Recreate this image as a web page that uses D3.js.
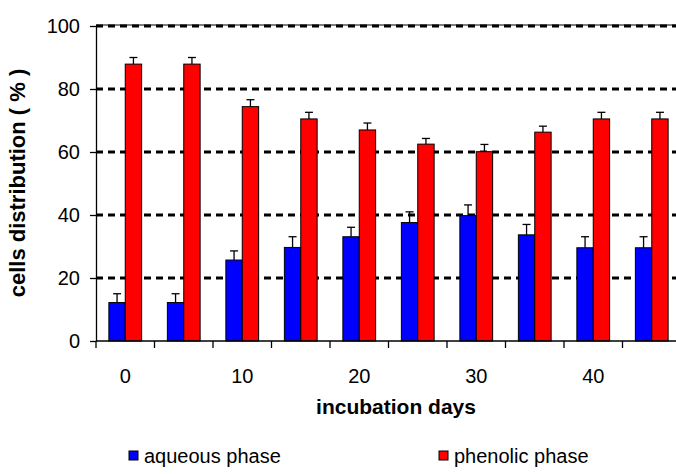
<!DOCTYPE html>
<html>
<head>
<meta charset="utf-8">
<script src="https://cdn.jsdelivr.net/npm/d3@7"></script>
<style>
  html, body { margin: 0; padding: 0; background: #fff; }
  svg { display: block; }
</style>
</head>
<body>
<div id="chart"></div>
<script>
const days = ["0", "5", "10", "15", "20", "25", "30", "35", "40", "45"];
const xTickLabels = ["0", "10", "20", "30", "40"];
const aqueous = [12.2, 12.2, 25.7, 29.7, 33.1, 37.6, 39.8, 33.7, 29.6, 29.6];
const aqueousErr = [2.8, 2.8, 2.9, 3.4, 3.0, 3.4, 3.4, 3.3, 3.5, 3.5];
const phenolic = [87.9, 87.9, 74.4, 70.5, 67.0, 62.5, 60.1, 66.3, 70.5, 70.5];
const phenolicErr = [2.1, 2.1, 2.2, 2.1, 2.2, 1.8, 2.3, 1.9, 2.1, 2.1];
const yTicks = [0, 20, 40, 60, 80, 100];
const seriesNames = ["aqueous phase", "phenolic phase"];
const seriesColors = ["#0000ff", "#ff0000"];

const W = 676, H = 474;
const pLeft = 96, pRight = 681, pTop = 26, pBottom = 341;
const FONT = "Liberation Sans, Arial, sans-serif";

const svg = d3.select("#chart").append("svg").attr("width", W).attr("height", H);

const x = d3.scaleBand().domain(days).range([pLeft, pRight]).paddingInner(0.44).paddingOuter(0.22);
const xs = d3.scaleBand().domain([0, 1]).range([0, x.bandwidth()]);
const y = d3.scaleLinear().domain([0, 100]).range([pBottom, pTop]);

// gridlines
svg.append("g").selectAll("line").data(yTicks.filter(d => d > 0)).join("line")
  .attr("x1", pLeft).attr("x2", pRight)
  .attr("y1", d => y(d)).attr("y2", d => y(d))
  .attr("stroke", "#000").attr("stroke-width", 3).attr("stroke-dasharray", "7,5");
// top border
svg.append("line").attr("x1", pLeft).attr("x2", pRight).attr("y1", y(100) - 1).attr("y2", y(100) - 1)
  .attr("stroke", "#000").attr("stroke-width", 1.2);

// bars
const series = [
  { vals: aqueous, errs: aqueousErr },
  { vals: phenolic, errs: phenolicErr }
];
series.forEach((s, si) => {
  const g = svg.append("g");
  g.selectAll("rect").data(days).join("rect")
    .attr("x", d => x(d) + xs(si))
    .attr("y", (d, i) => y(s.vals[i]))
    .attr("width", xs.bandwidth())
    .attr("height", (d, i) => y(0) - y(s.vals[i]))
    .attr("fill", seriesColors[si]).attr("stroke", "#000").attr("stroke-width", 1);
  g.selectAll("line.v").data(days).join("line").attr("class", "v")
    .attr("x1", d => x(d) + xs(si) + xs.bandwidth() / 2)
    .attr("x2", d => x(d) + xs(si) + xs.bandwidth() / 2)
    .attr("y1", (d, i) => y(s.vals[i]))
    .attr("y2", (d, i) => y(s.vals[i] + s.errs[i]))
    .attr("stroke", "#000").attr("stroke-width", 1.3);
  g.selectAll("line.c").data(days).join("line").attr("class", "c")
    .attr("x1", d => x(d) + xs(si) + xs.bandwidth() / 2 - 4)
    .attr("x2", d => x(d) + xs(si) + xs.bandwidth() / 2 + 4)
    .attr("y1", (d, i) => y(s.vals[i] + s.errs[i]))
    .attr("y2", (d, i) => y(s.vals[i] + s.errs[i]))
    .attr("stroke", "#000").attr("stroke-width", 1.3);
});

// y axis
const yAxis = d3.axisLeft(y).tickValues(yTicks).tickSize(6).tickSizeOuter(0).tickPadding(10);
const gy = svg.append("g").attr("transform", `translate(${pLeft},0)`).call(yAxis);
gy.select(".domain").attr("stroke", "#000").attr("stroke-width", 1.3);
gy.selectAll(".tick line").attr("stroke", "#000").attr("stroke-width", 1.3);
gy.selectAll(".tick text").attr("font-family", FONT)
  .attr("font-size", 20).attr("fill", "#000");

// x axis: domain line + boundary ticks
svg.append("line").attr("x1", pLeft).attr("x2", pRight).attr("y1", pBottom).attr("y2", pBottom)
  .attr("stroke", "#000").attr("stroke-width", 1.3);
svg.append("g").selectAll("line").data(days).join("line")
  .attr("x1", d => x(d) - (x.step() - x.bandwidth()) / 2)
  .attr("x2", d => x(d) - (x.step() - x.bandwidth()) / 2)
  .attr("y1", pBottom).attr("y2", pBottom + 7)
  .attr("stroke", "#000").attr("stroke-width", 1.3);
svg.append("g").selectAll("text").data(days.filter(d => xTickLabels.includes(d))).join("text")
  .attr("x", d => x(d) + x.bandwidth() / 2)
  .attr("y", 383)
  .attr("text-anchor", "middle")
  .attr("font-family", FONT).attr("font-size", 20)
  .text(d => d);

// axis titles
svg.append("text").attr("x", 396).attr("y", 414).attr("text-anchor", "middle")
  .attr("font-family", FONT).attr("font-weight", "bold")
  .attr("font-size", 21).text("incubation days");
svg.append("text").attr("transform", "translate(25,183) rotate(-90)").attr("text-anchor", "middle")
  .attr("font-family", FONT).attr("font-weight", "bold")
  .attr("font-size", 22).text("cells distribution ( % )");

// legend
const legendX = [129, 439];
seriesNames.forEach((n, i) => {
  svg.append("rect").attr("x", legendX[i]).attr("y", 451).attr("width", 9).attr("height", 9)
    .attr("fill", seriesColors[i]).attr("stroke", "#000").attr("stroke-width", 1);
  svg.append("text").attr("x", legendX[i] + 15).attr("y", 463)
    .attr("font-family", FONT).attr("font-size", 20)
    .text(n);
});
</script>
</body>
</html>
